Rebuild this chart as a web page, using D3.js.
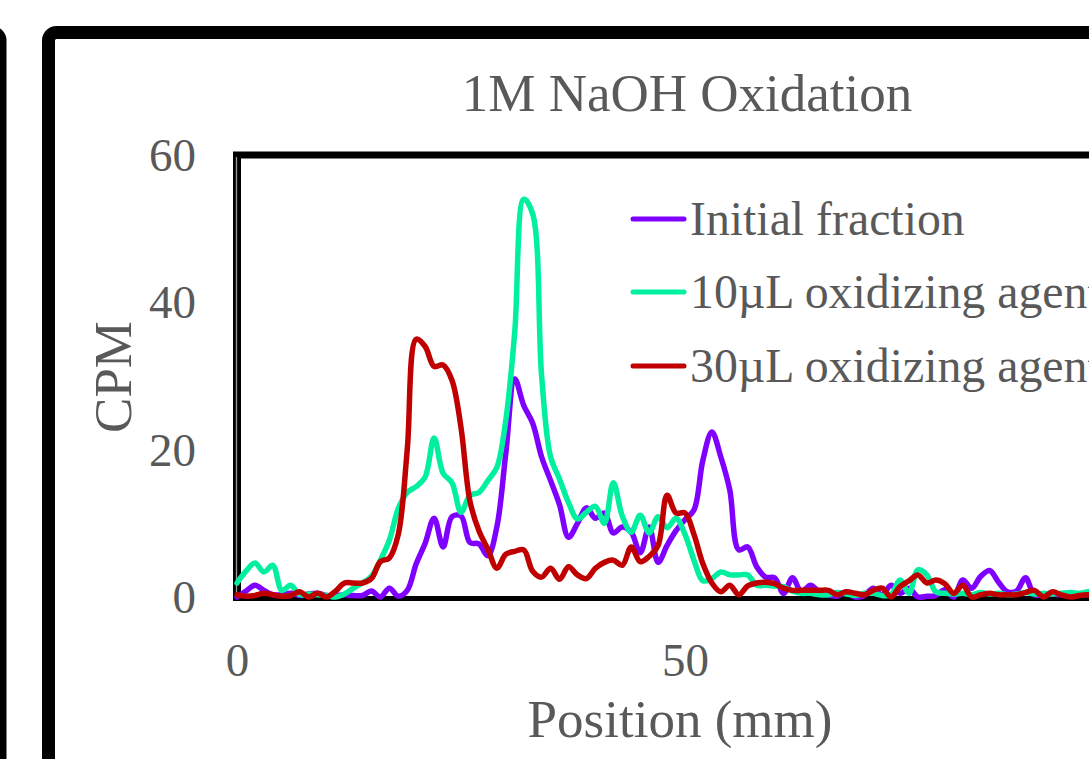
<!DOCTYPE html>
<html><head><meta charset="utf-8">
<script src="https://cdn.jsdelivr.net/npm/d3@7"></script>
<style>html,body{margin:0;padding:0;background:#fff;overflow:hidden}svg{display:block}</style>
</head><body>
<svg id="chart" width="1089" height="759"></svg>
<script>
const title = "1M NaOH Oxidation";
const xLabel = "Position (mm)";
const yLabel = "CPM";
const seriesNames = ["Initial fraction", "10\u00b5L oxidizing agent", "30\u00b5L oxidizing agent"];
const seriesColors = ["#8000ff", "#00f0a0", "#c00000"];
const xTicks = [0, 50];
const yTicks = [0, 20, 40, 60];
const positions = d3.range(0, 101);
const initialFraction = [
 0,0.8,1.6,0.9,0.3,0.3,0.5,0.2,0.4,0.5,
 0.2,0.2,0.3,0.2,0.2,0.8,0,1.2,0.1,0.9,
 4.5,7.3,10.7,6.8,10.9,11.0,7.4,7.2,5.6,9.5,
 19.5,29.6,26,23.6,19,15.8,12.5,8.1,10,12.1,
 10.7,11.4,8.7,9.5,8.8,6.0,9.5,4.7,7,9,
 10.5,11.8,18.6,22.4,19,14.5,6.4,6.8,4.1,2.7,
 2.6,0.5,2.6,0.7,1.6,0.7,0.3,0.1,0.7,0,
 0.2,1.2,0.3,1.6,0.5,1.2,0,0.1,0.2,1.0,
 0,2.3,1.2,2.8,3.6,2,0.7,0.8,2.6,0.3,
 0.3,0.4,0.3,0.3,0.4,0.3,0.3,0.3,0.3,0.3,0.3
];
const tenMicroL = [
 1.9,3.5,4.6,3.4,4.3,0.9,1.6,0.3,0.4,0.3,
 0.2,0,0.4,1.2,1.9,2.8,5,7.7,12,14.2,
 15,16.3,21.6,16.8,15.5,11.5,13.8,14.2,15.8,17.6,
 24,36,54,52,30,19,16,12.8,10.6,11.5,
 12.3,10,15.5,11,8.8,11.1,8.7,10.9,9.4,10.7,
 8.5,5,2.2,2.5,3.4,3,3,3,1.6,1.6,
 1.5,1.4,0.8,0.5,0.5,0.3,0.3,0.6,0.4,0.2,
 0.5,0.5,0.2,0.3,2.3,0.5,3.7,3,0.7,0.5,
 0.4,0.5,0.3,0.6,0.4,0.5,0.3,0.4,0.6,0.4,
 0.5,0.4,0.5,0.6,0.5,0.7,0.6,0.5,0.6,0.5,0.5
];
const thirtyMicroL = [
 0.3,0.1,0.2,0.5,0.3,0.1,0.2,0.7,0,0.5,
 0,0.8,1.9,1.9,1.9,2.5,4.8,5.3,8.5,20,
 35,34,31.3,31.5,29.4,23,13,9,6.5,3.9,
 5.8,6.2,6.4,3.5,2.7,3.9,2.4,4.1,3.0,2.5,
 3.9,4.7,5,4.3,6.8,4.8,5.5,7,13.8,11.4,
 11.4,8.5,4.5,1.9,0.7,1.6,0.3,1.5,1.9,2,
 1.8,1.2,0.9,0.9,0.9,0.9,0.9,0.3,0.7,0.5,
 0.3,0.9,1.2,0,1.4,2.2,3,1.9,2.3,1.8,
 0.5,1.6,0,0.3,0.5,0.3,0.3,0.3,0.6,0.9,
 0,0.7,0.3,0,0.2,0.3,0.3,0.4,0.3,0.3,0.3
];
const allSeries = [initialFraction, tenMicroL, thirtyMicroL];

const svg = d3.select("#chart");
const font = "'Liberation Serif','Times New Roman',serif";
const grey = "#595959";

// outer frames
svg.append("rect").attr("x", -120).attr("y", 32.5).attr("width", 120).attr("height", 800)
  .attr("rx", 8).attr("fill", "none").attr("stroke", "#000").attr("stroke-width", 13);
svg.append("rect").attr("x", 48.5).attr("y", 32.5).attr("width", 1200).attr("height", 800)
  .attr("rx", 8).attr("fill", "none").attr("stroke", "#000").attr("stroke-width", 13);

const x = d3.scaleLinear().domain([0, 100]).range([237, 1133]);
const y = d3.scaleLinear().domain([0, 60]).range([597, 155]);

// plot area border
svg.append("line").attr("x1", 233).attr("x2", 1200).attr("y1", y(60)).attr("y2", y(60))
  .attr("stroke", "#000").attr("stroke-width", 7);
svg.append("line").attr("x1", 237).attr("x2", 237).attr("y1", y(60) - 3).attr("y2", 601)
  .attr("stroke", "#000").attr("stroke-width", 8);
svg.append("line").attr("x1", 236.5).attr("x2", 236.5).attr("y1", y(60) + 2).attr("y2", 596)
  .attr("stroke", "#9a9a9a").attr("stroke-width", 1.3);
svg.append("line").attr("x1", 233).attr("x2", 1200).attr("y1", 598.5).attr("y2", 598.5)
  .attr("stroke", "#000").attr("stroke-width", 5);

// axes
const yAxis = svg.append("g").attr("transform", "translate(196,0)")
  .call(d3.axisLeft(y).tickValues(yTicks).tickSize(0).tickPadding(0).tickFormat(d3.format("d")));
yAxis.select(".domain").remove();
yAxis.selectAll("text").attr("font-family", font).attr("font-size", 47).attr("fill", grey)
  .attr("dy", "0.33em");

const xAxis = svg.append("g").attr("transform", "translate(0,676)")
  .call(d3.axisBottom(x).tickValues(xTicks).tickSize(0).tickPadding(0).tickFormat(d3.format("d")));
xAxis.select(".domain").remove();
xAxis.selectAll("text").attr("font-family", font).attr("font-size", 47).attr("fill", grey)
  .attr("dy", 0);

// titles
svg.append("text").attr("x", 687).attr("y", 111).attr("text-anchor", "middle")
  .attr("font-family", font).attr("font-size", 53).attr("fill", grey).text(title);
svg.append("text").attr("x", 680).attr("y", 737).attr("text-anchor", "middle")
  .attr("font-family", font).attr("font-size", 53).attr("fill", grey).text(xLabel);
svg.append("text").attr("transform", "translate(131,377) rotate(-90)").attr("text-anchor", "middle")
  .attr("font-family", font).attr("font-size", 53).attr("fill", grey).text(yLabel);

// lines
const line = d3.line().x((d, i) => x(positions[i])).y(d => y(d)).curve(d3.curveCatmullRom.alpha(0.5));
allSeries.forEach((s, k) => {
  svg.append("path").datum(s).attr("d", line).attr("fill", "none")
    .attr("stroke", seriesColors[k]).attr("stroke-width", 5.5)
    .attr("stroke-linejoin", "round").attr("stroke-linecap", "round");
});

// legend
const legendY = [219, 292, 366];
seriesNames.forEach((name, k) => {
  svg.append("line").attr("x1", 633).attr("x2", 684).attr("y1", legendY[k]).attr("y2", legendY[k])
    .attr("stroke", seriesColors[k]).attr("stroke-width", 5).attr("stroke-linecap", "round");
  svg.append("text").attr("x", 690).attr("y", legendY[k] + 16)
    .attr("font-family", font).attr("font-size", 47.8).attr("fill", grey).text(name);
});
</script>
</body></html>
